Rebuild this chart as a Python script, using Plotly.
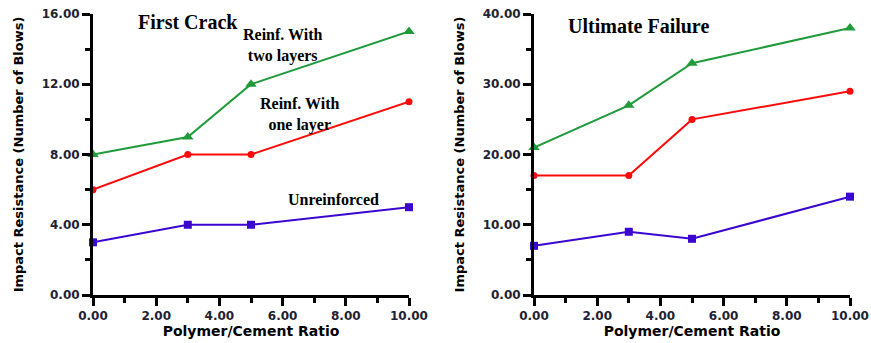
import plotly.graph_objects as go

ratio = [0, 3, 5, 10]
fc_two_layers = [8, 9, 12, 15]
fc_one_layer = [6, 8, 8, 11]
fc_unreinforced = [3, 4, 4, 5]
uf_two_layers = [21, 27, 33, 38]
uf_one_layer = [17, 17, 25, 29]
uf_unreinforced = [7, 9, 8, 14]

GREEN = "#1f9b3a"
RED = "#ff0a0a"
BLUE = "#3a06d0"
TXT = "#222233"

fig = go.Figure()

def add_series(xa, ya, ys, color, symbol, size):
    fig.add_trace(go.Scatter(
        x=ratio, y=ys, mode="lines+markers", xaxis=xa, yaxis=ya,
        line=dict(color=color, width=2),
        marker=dict(color=color, symbol=symbol, size=size, line=dict(width=0)),
        cliponaxis=False, showlegend=False))

add_series("x", "y", fc_two_layers, GREEN, "triangle-up", 10)
add_series("x", "y", fc_one_layer, RED, "circle", 7)
add_series("x", "y", fc_unreinforced, BLUE, "square", 8)
add_series("x2", "y2", uf_two_layers, GREEN, "triangle-up", 10)
add_series("x2", "y2", uf_one_layer, RED, "circle", 7)
add_series("x2", "y2", uf_unreinforced, BLUE, "square", 8)

W, H = 871, 343
def fx(px):
    return px / W
def fy(py):
    return 1 - py / H

ydom = [fy(295), fy(14)]
SANS = "DejaVu Sans"
tickfont = dict(family=SANS, size=12, color=TXT, weight="bold")

def xaxis_cfg(dom, anchor):
    return dict(domain=dom, anchor=anchor, range=[0, 10], tickmode="array",
                tickvals=[0, 2, 4, 6, 8, 10],
                tickformat=".2f", ticks="outside", ticklen=8, tickwidth=3, tickcolor="black",
                showline=True, linewidth=3, linecolor="black", mirror=False,
                showgrid=False, zeroline=False, ticklabeloverflow="allow",
                automargin=False, tickfont=tickfont,
                minor=dict(tickmode="linear", tick0=1, dtick=2, ticks="outside", ticklen=5,
                           tickwidth=3, tickcolor="black", showgrid=False),
                title=dict(text="Polymer/Cement Ratio",
                           font=dict(family=SANS, size=14, color="black", weight="bold"),
                           standoff=2))

def yaxis_cfg(dom, anchor, rmax, step):
    return dict(domain=dom, anchor=anchor, range=[0, rmax], tickmode="array",
                tickvals=[i * step for i in range(5)],
                tickformat=".2f", ticks="outside", ticklen=8, tickwidth=3, tickcolor="black",
                showline=True, linewidth=3, linecolor="black", mirror=False,
                showgrid=False, zeroline=False, ticklabeloverflow="allow",
                automargin=False, tickfont=tickfont,
                minor=dict(tickmode="linear", tick0=step / 2, dtick=step, ticks="outside", ticklen=5,
                           tickwidth=3, tickcolor="black", showgrid=False),
                title=dict(text="Impact Resistance (Number of Blows)",
                           font=dict(family=SANS, size=13, color="black", weight="bold"),
                           standoff=16))

fig.update_layout(
    template="none",
    width=W, height=H,
    margin=dict(l=0, r=0, t=0, b=0, autoexpand=False),
    paper_bgcolor="white", plot_bgcolor="white",
    xaxis=xaxis_cfg([fx(93), fx(409)], "y"),
    yaxis=yaxis_cfg(ydom, "x", 16, 4),
    xaxis2=xaxis_cfg([fx(534), fx(850)], "y2"),
    yaxis2=yaxis_cfg(ydom, "x2", 40, 10),
)

serif = "Liberation Serif"
def ann(text, x, y, size):
    fig.add_annotation(text=f"<b>{text}</b>", x=fx(x), y=fy(y), xref="paper", yref="paper",
                       showarrow=False, font=dict(family=serif, size=size, color="black"),
                       xanchor="center", yanchor="middle")

ann("First Crack", 188, 22, 20)
ann("Reinf. With<br>two layers", 283, 46, 16)
ann("Reinf. With<br>one layer", 300, 114, 16)
ann("Unreinforced", 333, 199, 16)
ann("Ultimate Failure", 638, 26, 20)

fig.write_html("out.html",
               config={"displayModeBar": False},
               post_script="document.body.style.margin='0';document.body.style.overflow='hidden';")
